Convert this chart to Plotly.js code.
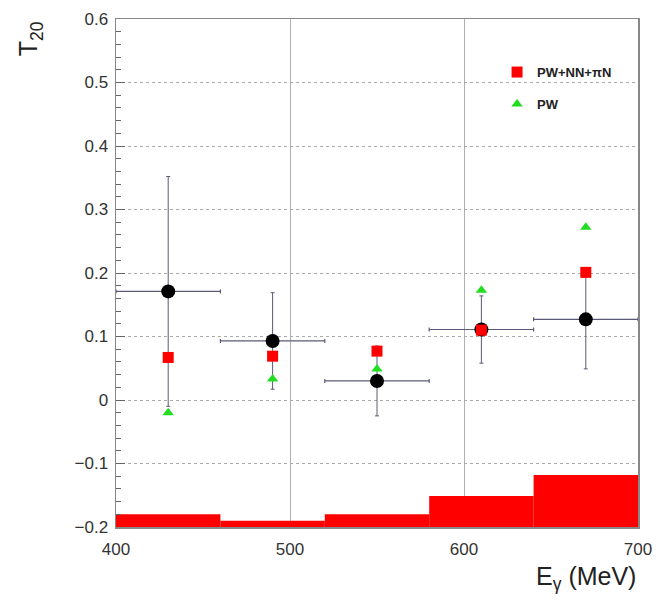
<!DOCTYPE html>
<html>
<head>
<meta charset="utf-8">
<script src="https://cdn.plot.ly/plotly-3.0.1.min.js"></script>
<style>html,body{margin:0;padding:0;background:#fff;}#chart{width:662px;height:602px;}</style>
</head>
<body>
<div id="chart"></div>
<script>
// Bin centres (MeV) and half-widths
const energy = [430, 490, 550, 610, 670];
const energyHalfWidth = [30, 30, 30, 30, 30];
// Measured T20 with statistical errors
const t20 = [0.171, 0.093, 0.030, 0.111, 0.127];
const t20Err = [0.181, 0.076, 0.055, 0.053, 0.078];
// Model curves
const pwNNpiN = [0.067, 0.069, 0.077, 0.110, 0.201];
const pw = [-0.020, 0.033, 0.049, 0.173, 0.272];
// Systematic error band (heights above -0.2)
const sysBase = -0.2;
const sysErr = [0.020, 0.010, 0.020, 0.049, 0.082];
const binWidth = [60, 60, 60, 60, 60];

const xTicks = [400, 500, 600, 700];
const yTicks = [-0.2, -0.1, 0, 0.1, 0.2, 0.3, 0.4, 0.5, 0.6];

const font = "Liberation Sans, Arial, Helvetica, sans-serif";
const errColor = "#5a5a78";

const traces = [
  {
    type: "bar", x: energy, y: sysErr, base: sysBase, width: binWidth,
    marker: {color: "#ff0000", line: {width: 0}}, showlegend: false, hoverinfo: "skip"
  },
  {
    type: "scatter", mode: "markers", x: energy, y: t20,
    marker: {color: "#000", size: 14, symbol: "circle"},
    error_y: {type: "data", array: t20Err, color: errColor, thickness: 1, width: 2},
    error_x: {type: "data", array: energyHalfWidth, color: errColor, thickness: 1.2, width: 2},
    showlegend: false
  },
  {
    type: "scatter", mode: "markers", x: energy, y: pwNNpiN, name: "PW+NN+πN",
    marker: {color: "#ff0000", size: 11, symbol: "square"}, legendgroup: "a"
  },
  {
    type: "scatter", mode: "markers", x: energy, y: pw, name: "PW",
    marker: {color: "#22dd22", size: 10, symbol: "triangle-up"}, legendgroup: "b"
  }
];

const layout = {
  width: 662, height: 602,
  margin: {l: 116, r: 24, t: 19, b: 75},
  paper_bgcolor: "#fff", plot_bgcolor: "#fff",
  font: {family: font, size: 17, color: "#333"},
  barmode: "overlay",
  xaxis: {
    range: [400, 700], tickvals: xTicks, ticktext: xTicks.map(String),
    showgrid: true, gridcolor: "#b0b0b0", gridwidth: 1,
    showline: true, mirror: true, linecolor: "#888", linewidth: 1.5,
    ticks: "", zeroline: false, tickfont: {size: 17, color: "#333"},
    ticklabelstandoff: 6
  },
  yaxis: {
    range: [-0.2, 0.6], tickvals: yTicks, ticktext: yTicks.map(v => v === 0 ? "0" : (v < 0 ? "\u2212" + Math.abs(v) : String(v))),
    showgrid: true, gridcolor: "#aaa", gridwidth: 1, griddash: "dot",
    showline: true, mirror: true, linecolor: "#888", linewidth: 1.5,
    ticks: "inside", ticklen: 9, tickcolor: "#666",
    minor: {dtick: 0.02, ticks: "inside", ticklen: 5, tickcolor: "#666", showgrid: false},
    zeroline: false, tickfont: {size: 17, color: "#333"},
    ticklabelstandoff: 3
  },
  legend: {
    x: 0.73, y: 0.925, xanchor: "left", yanchor: "top",
    bgcolor: "rgba(0,0,0,0)", borderwidth: 0,
    font: {family: font, size: 13, color: "#222", weight: "bold"},
    tracegroupgap: 12, traceorder: "grouped", itemwidth: 30
  },
  annotations: [
    {text: "T<sub>20</sub>", textangle: -90, xref: "paper", yref: "paper",
     x: -0.165, y: 1.0, xanchor: "center", yanchor: "top", showarrow: false,
     font: {family: font, size: 25, color: "#222"}},
    {text: "E<sub>γ</sub> (MeV)", xref: "paper", yref: "paper",
     x: 1.0, y: -0.064, xanchor: "right", yanchor: "top", showarrow: false,
     font: {family: font, size: 25, color: "#222"}}
  ]
};

Plotly.newPlot("chart", traces, layout, {displayModeBar: false, staticPlot: true});
</script>
</body>
</html>
